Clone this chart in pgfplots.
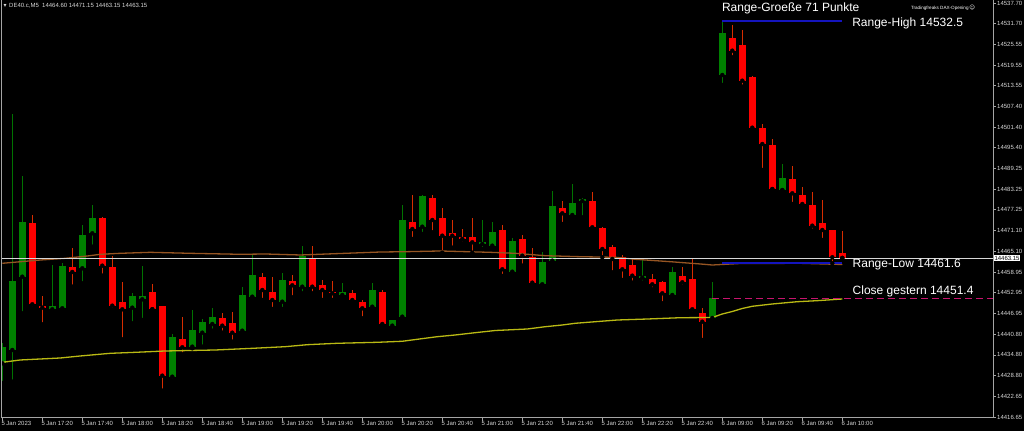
\documentclass[border=0pt]{standalone}
\usepackage{pgfplots}
\pgfplotsset{compat=1.18}
\usepackage{pgfplotstable}
\usepackage{fontspec}
\setmainfont{Liberation Sans}
\newfontfamily\symfont{DejaVu Sans}

\definecolor{bullbody}{RGB}{0,128,0}
\definecolor{bullwick}{RGB}{0,115,0}
\definecolor{bearbody}{RGB}{255,0,0}
\definecolor{bearwick}{RGB}{215,45,0}
\definecolor{maslow}{RGB}{185,185,20}
\definecolor{mafast}{RGB}{150,85,35}
\definecolor{rangeblue}{RGB}{20,20,190}
\definecolor{closemag}{RGB}{200,20,110}
\definecolor{axisgray}{RGB}{165,165,165}
\definecolor{labelgray}{RGB}{215,215,215}

% i open high low close
\pgfplotstableread{
i o h l c
0 14432.35 14438.29 14426.59 14437.21
1 14436.24 14505.25 14426.97 14456.42
2 14457.67 14487.12 14446.97 14473.75
5 14448.14 14461.09 14447.26 14449.11
6 14448.43 14461.59 14448.14 14460.89
8 14460.13 14472.79 14455.74 14469.87
9 14470.36 14478.64 14466.44 14474.75
13 14448.61 14452.82 14444.05 14452.03
14 14451.06 14460.89 14445.01 14452.12
17 14428.43 14440.83 14427.26 14439.95
19 14437.21 14447.94 14436.74 14442.09
20 14441.30 14445.30 14437.21 14444.34
21 14443.84 14448.43 14441.88 14445.98
24 14441.88 14454.75 14440.83 14452.32
25 14451.82 14464.02 14451.53 14458.17
28 14450.36 14458.67 14448.23 14456.71
30 14454.75 14466.65 14452.82 14463.73
34 14452.32 14455.74 14451.36 14453.29
37 14448.90 14455.74 14447.94 14453.78
39 14443.35 14445.01 14442.38 14445.01
40 14445.98 14478.64 14445.51 14474.25
42 14472.29 14481.56 14470.16 14481.27
48 14467.23 14474.25 14465.77 14467.53
49 14466.74 14473.75 14465.77 14470.83
51 14459.13 14468.90 14458.90 14468.20
54 14455.45 14464.98 14455.20 14461.88
55 14462.35 14482.73 14461.39 14478.35
57 14475.71 14484.78 14474.75 14479.31
58 14479.81 14480.77 14475.04 14480.39
64 14457.38 14463.05 14455.92 14457.97
67 14452.32 14460.42 14451.82 14458.96
71 14445.60 14455.98 14445.01 14451.36
72 14516.65 14532.50 14513.73 14529.02
78 14483.02 14490.63 14482.90 14486.62
}\bull

\pgfplotstableread{
i o h l c
3 14473.29 14475.71 14448.43 14449.60
4 14449.11 14452.12 14443.75 14448.61
7 14460.42 14466.15 14454.75 14459.05
10 14474.75 14475.22 14457.97 14460.89
11 14460.42 14463.81 14447.94 14449.19
12 14450.19 14456.04 14439.37 14448.14
15 14453.11 14455.54 14448.14 14448.14
16 14449.19 14449.19 14424.34 14428.73
18 14439.46 14445.98 14434.98 14437.03
22 14445.51 14446.97 14441.30 14443.35
23 14444.05 14447.44 14438.67 14441.30
26 14457.50 14458.67 14450.86 14453.78
27 14453.29 14457.67 14448.23 14450.86
29 14456.42 14458.17 14451.65 14455.16
31 14462.85 14466.65 14452.82 14454.75
32 14455.25 14456.71 14450.86 14453.78
33 14453.29 14456.42 14450.86 14452.82
35 14452.82 14453.78 14449.90 14450.86
36 14450.36 14450.86 14445.51 14448.43
38 14453.29 14453.78 14443.50 14443.84
41 14473.75 14481.56 14468.70 14471.62
43 14480.60 14481.56 14470.66 14474.25
44 14474.75 14477.67 14464.69 14469.66
45 14470.36 14474.25 14466.15 14469.66
46 14469.28 14471.62 14467.44 14468.70
47 14469.28 14474.75 14464.69 14467.73
50 14471.33 14472.79 14457.88 14459.84
52 14468.78 14469.87 14460.89 14463.81
53 14463.35 14465.98 14455.25 14455.92
56 14477.85 14479.81 14473.08 14476.21
59 14479.81 14482.35 14471.12 14472.12
60 14471.82 14472.29 14463.35 14465.77
61 14466.44 14466.94 14458.96 14462.85
62 14463.52 14464.02 14456.71 14459.84
63 14461.01 14463.05 14455.92 14457.97
65 14457.00 14458.37 14453.99 14455.45
66 14456.04 14456.42 14449.90 14452.82
68 14457.97 14460.42 14454.75 14456.04
69 14457.00 14463.05 14446.97 14448.14
70 14446.97 14448.43 14439.16 14444.51
73 14527.56 14531.27 14521.83 14523.76
74 14525.42 14529.81 14513.23 14514.98
75 14515.98 14516.36 14500.77 14501.24
76 14501.06 14502.32 14488.87 14496.47
77 14496.18 14497.94 14483.23 14483.32
79 14486.24 14490.04 14478.93 14482.06
80 14481.56 14483.99 14477.97 14478.93
81 14478.64 14482.53 14471.12 14472.58
82 14473.29 14480.10 14468.40 14471.33
83 14471.33 14471.33 14461.60 14463.35
84 14464.60 14471.15 14463.15 14463.15
}\bear

\begin{document}
\begin{tikzpicture}[x=1pt,y=1pt]
\fill[black] (0,0) rectangle (1024,431);
\begin{axis}[
  at={(2pt,13.5pt)}, anchor=south west,
  width=991pt, height=417.5pt, scale only axis,
  xmin=-0.03, xmax=99.07, ymin=14416.5, ymax=14538.58,
  axis line style={draw=none},
  xtick={0,4,...,84},
  xticklabels={5 Jan 2023, 5 Jan 17:20, 5 Jan 17:40, 5 Jan 18:00, 5 Jan 18:20, 5 Jan 18:40, 5 Jan 19:00, 5 Jan 19:20, 5 Jan 19:40, 5 Jan 20:00, 5 Jan 20:20, 5 Jan 20:40, 5 Jan 21:00, 5 Jan 21:20, 5 Jan 21:40, 5 Jan 22:00, 5 Jan 22:20, 5 Jan 22:40, 6 Jan 09:00, 6 Jan 09:20, 6 Jan 09:40, 6 Jan 10:00},
  ytick={14537.70,14531.70,14525.55,14519.55,14513.55,14507.40,14501.40,14495.40,14489.25,14483.25,14477.25,14471.10,14465.10,14458.95,14452.95,14446.95,14440.80,14434.80,14428.80,14422.65,14416.65},
  yticklabels={14537.70,14531.70,14525.55,14519.55,14513.55,14507.40,14501.40,14495.40,14489.25,14483.25,14477.25,14471.10,14465.10,14458.95,14452.95,14446.95,14440.80,14434.80,14428.80,14422.65,14416.65},
  xtick pos=left, ytick pos=right, yticklabel pos=right,
  tick align=outside, major tick length=3pt,
  tick style={axisgray, line width=0.8pt},
  ticklabel style={font=\fontsize{6}{7}\selectfont, text=labelgray},
  xticklabel style={anchor=north west, xshift=-2pt, inner sep=1pt},
  yticklabel style={anchor=west, inner sep=1pt},
]
% wicks
\addplot[forget plot, only marks, mark=none,
  error bars/.cd, y dir=plus, y explicit, error mark=none,
  error bar style={line width=1pt, draw=bullwick}]
  table[x=i, y=l, y error expr=\thisrow{h}-\thisrow{l}] \bull;
\addplot[forget plot, only marks, mark=none,
  error bars/.cd, y dir=plus, y explicit, error mark=none,
  error bar style={line width=1pt, draw=bearwick}]
  table[x=i, y=l, y error expr=\thisrow{h}-\thisrow{l}] \bear;
% bodies
\addplot[forget plot, only marks, mark=none,
  error bars/.cd, y dir=plus, y explicit, error mark=none,
  error bar style={line width=7pt, draw=bullbody}]
  table[x=i, y=o, y error expr={max(\thisrow{c}-\thisrow{o},0.5)}] \bull;
\addplot[forget plot, only marks, mark=none,
  error bars/.cd, y dir=plus, y explicit, error mark=none,
  error bar style={line width=7pt, draw=bearbody}]
  table[x=i, y=c, y error expr={max(\thisrow{o}-\thisrow{c},0.5)}] \bear;

% moving averages
\addplot[mafast, line width=1.3pt] coordinates {
(0,14461.59) (3.8,14462.55) (6.3,14463.05) (8.5,14463.72) (9.8,14464.22)
(11.8,14464.51) (14.8,14464.80) (18.8,14464.51) (23.8,14464.22) (26.3,14464.31)
(29.8,14464.02) (34.3,14464.51) (37.8,14464.89) (40.3,14464.98) (43.8,14465.19)
(48.8,14464.80) (51.3,14464.51) (54.3,14463.81) (57.8,14463.52) (61.3,14463.35)
(63.3,14462.76) (66.8,14462.06) (69.8,14461.39) (71,14461.09) (73.8,14461.53)
(79.8,14461.59) (84,14461.24)};
\addplot[maslow, line width=1.3pt] coordinates {
(0,14432.64) (1.8,14433.32) (5.8,14433.90) (7.8,14434.49) (10.8,14435.27)
(13.3,14435.56) (16.3,14435.95) (21.3,14436.24) (25.1,14436.74) (28.3,14437.21)
(30.5,14437.79) (33.5,14438.20) (37.5,14438.49) (40,14438.79) (41.5,14439.37)
(43.5,14440.13) (45.3,14440.63) (47.3,14441.30) (49.3,14441.94) (52.5,14442.38)
(54.3,14443.05) (56,14443.55) (57.3,14444.05) (59.3,14444.51) (61.5,14445.01)
(64.5,14445.30) (67.8,14445.68) (71,14445.74) (72,14446.77) (73,14447.50)
(74,14448.38) (75,14449.02) (77,14449.69) (79.5,14450.36) (81.5,14450.66)
(84,14451.15)};

% current price line
\addplot[labelgray, line width=0.9pt] coordinates {(-1,14463.15) (100,14463.15)};
% range lines
\addplot[rangeblue, line width=2pt] coordinates {(72,14532.5) (84,14532.5)};
\addplot[rangeblue, line width=2pt] coordinates {(72,14461.6) (84,14461.6)};
% close yesterday
\addplot[closemag, line width=1pt, dash pattern=on 7pt off 4pt] coordinates {(71,14451.4) (100,14451.4)};

% labels
\node[anchor=base west, text=white, font=\fontsize{12}{14}\selectfont, inner sep=0] at (axis cs:71.95,14535.16) {Range-Groeße 71 Punkte};
\node[anchor=base west, text=white, font=\fontsize{12}{14}\selectfont, inner sep=0] at (axis cs:84.98,14530.77) {Range-High 14532.5};
\node[anchor=base west, text=white, font=\fontsize{12}{14}\selectfont, inner sep=0] at (axis cs:85.02,14460.30) {Range-Low 14461.6};
\node[anchor=base west, text=white, font=\fontsize{12}{14}\selectfont, inner sep=0] at (axis cs:85.02,14452.32) {Close gestern 14451.4};
\node[anchor=east, text=white, font=\fontsize{4.6}{5.5}\selectfont, inner sep=0] at (axis cs:97.3,14536.3) {Tradingfreaks DAX-Opening\,{\symfont\fontsize{5.5}{5.5}\selectfont ☺}};
\node[anchor=west, text=labelgray, font=\fontsize{6}{7}\selectfont, inner sep=0] at (axis cs:0.1,14536.8) {{\symfont ▾}\, DE40.c,M5\ \ 14464.60 14471.15 14463.15 14463.15};
\coordinate (cp) at (axis cs:99.07,14463.15);
\end{axis}
\draw[axisgray, line width=1pt] (1.5,431) -- (1.5,13.5) -- (993,13.5) -- (993,431);
\node[fill=white, text=black, anchor=west, inner sep=0.8pt, font=\fontsize{6}{7}\selectfont] at ([xshift=0.5pt]cp) {14463.15};
\pgfresetboundingbox
\path (0,0) rectangle (1024,431);
\end{tikzpicture}
\end{document}
